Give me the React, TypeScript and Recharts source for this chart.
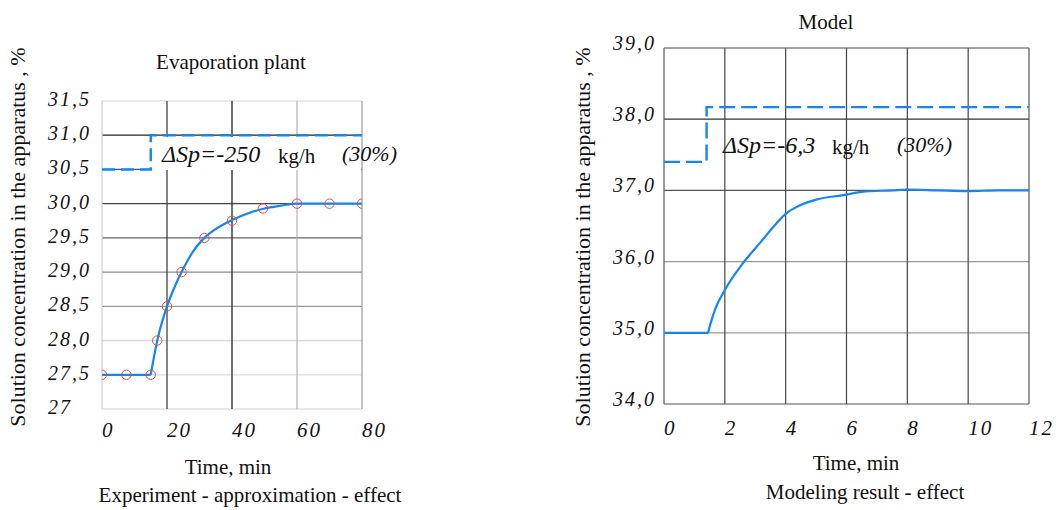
import { LineChart, Line, XAxis, YAxis, CartesianGrid } from 'recharts'

// experiment (left panel)
const expTicksX = [0, 20, 40, 60, 80]
const expTicksY = [27, 27.5, 28, 28.5, 29, 29.5, 30, 30.5, 31, 31.5]
const expLabelsY = ['27', '27,5', '28,0', '28,5', '29,0', '29,5', '30,0', '30,5', '31,0', '31,5']
const expFlatT = [0, 15]
const expFlatC = [27.5, 27.5]
const expCurveT = [15, 17, 20, 22.5, 25, 28, 31.5, 35, 40, 45, 50, 55, 60, 70, 80]
const expCurveC = [27.5, 28.0, 28.5, 28.8, 29.05, 29.3, 29.5, 29.63, 29.76, 29.86, 29.93, 29.97, 30.0, 30.0, 30.0]
const expPointT = [0, 7.5, 15, 17, 20, 24.5, 31.5, 40, 49.5, 60, 70, 80]
const expPointC = [27.5, 27.5, 27.5, 28.0, 28.5, 29.0, 29.5, 29.75, 29.93, 30.0, 30.0, 30.0]
const expStepT = [0, 15, 80]
const expStepC = [30.5, 31.0, 31.0]

// model (right panel)
const modTicksX = [0, 2, 4, 6, 8, 10, 12]
const modTicksY = [34, 35, 36, 37, 38, 39]
const modLabelsY = ['34,0', '35,0', '36,0', '37,0', '38,0', '39,0']
const modFlatT = [0, 1.45]
const modFlatC = [35, 35]
const modCurveT = [1.45, 1.55, 1.7, 2.0, 2.6, 3.17, 3.62, 4.0, 4.42, 5.0, 6.0, 6.5, 7.5, 8, 9, 10, 11, 12]
const modCurveC = [35.0, 35.16, 35.35, 35.6, 35.98, 36.27, 36.5, 36.67, 36.78, 36.87, 36.94, 36.98, 37.0, 37.01, 37.0, 36.99, 37.0, 37.0]
const modStepT = [0, 1.4, 12]
const modStepC = [37.4, 38.17, 38.17]

const rows = (ts: number[], vs: number[]) => ts.map((t, i) => ({ t, v: vs[i] }))

const serif = "'Liberation Serif', 'Times New Roman', serif"
const blue = '#1585f0'

// grid colours, bottom->top and left->right
const expGridH = ['#cfcfcf', '#dcdcdc', '#d6d6d6', '#999', '#8c8c8c', '#666', '#444', '#555', '#222', '#d4d4d4']
const expGridV = ['#cfcfcf', '#333', '#111', '#b4b4b4', '#999']
const modGridH = ['#555', '#999', '#999', '#555', '#333', '#444']
const modGridV = ['#555', '#444', '#444', '#444', '#444', '#444', '#555']

const gridLine = (colors: string[]) => (p: any) => {
  const { x1, y1, x2, y2, index } = p
  return <line key={`g-${index}-${x1}-${y1}`} x1={x1} y1={y1} x2={x2} y2={y2} stroke={colors[index] ?? '#444'} strokeWidth={1.2} />
}

const yTick = (ticks: number[], labels: string[], left: number, dy: number) => (p: any) => {
  const i = ticks.indexOf(p.payload.value)
  return (
    <text key={`y-${i}`} x={left} y={p.y + dy} textAnchor="start" dominantBaseline="central"
      fontFamily={serif} fontStyle="italic" fontSize={20} letterSpacing={2} fill="#111">
      {labels[i]}
    </text>
  )
}

const xTick = (y: number) => (p: any) => (
  <text key={`x-${p.payload.value}`} x={p.x} y={y} textAnchor="start" dominantBaseline="central"
    fontFamily={serif} fontStyle="italic" fontSize={21} letterSpacing={2} fill="#111">
    {p.payload.value}
  </text>
)

const abs = (x: number, y: number, size: number, extra: any = {}) => ({
  position: 'absolute' as const,
  left: x,
  top: y,
  transform: 'translate(-50%, -50%)',
  fontSize: size,
  lineHeight: 1,
  whiteSpace: 'nowrap' as const,
  color: '#111',
  ...extra,
})

const piece = (x: number, y: number, size: number, italic: boolean) => ({
  position: 'absolute' as const,
  left: x,
  top: y,
  transform: 'translateY(-50%)',
  fontSize: size,
  lineHeight: 1,
  fontStyle: italic ? 'italic' : 'normal',
  whiteSpace: 'nowrap' as const,
  color: '#111',
})

function ExperimentChart() {
  return (
    <LineChart width={420} height={510} margin={{ top: 101, right: 58, left: 42, bottom: 71 }}>
      <CartesianGrid horizontal={gridLine(expGridH)} vertical={gridLine(expGridV)} />
      <XAxis type="number" dataKey="t" domain={[0, 80]} ticks={expTicksX} interval={0}
        axisLine={false} tickLine={false} height={30} tick={xTick(430)} allowDataOverflow />
      <YAxis type="number" domain={[27, 31.5]} ticks={expTicksY} interval={0}
        axisLine={false} tickLine={false} width={60} tick={yTick(expTicksY, expLabelsY, 48, -2)} allowDataOverflow />
      <Line data={rows(expStepT, expStepC)} dataKey="v" type="stepAfter" stroke={blue} strokeWidth={2.4}
        strokeDasharray="13 6" dot={false} activeDot={false} isAnimationActive={false} />
      <Line data={rows(expFlatT, expFlatC)} dataKey="v" type="linear" stroke={blue} strokeWidth={2.2}
        dot={false} activeDot={false} isAnimationActive={false} />
      <Line data={rows(expCurveT, expCurveC)} dataKey="v" type="monotone" stroke={blue} strokeWidth={2.2}
        dot={false} activeDot={false} isAnimationActive={false} />
      <Line data={rows(expPointT, expPointC)} dataKey="v" type="linear" stroke="none"
        dot={{ r: 4.7, fill: 'none', stroke: '#e5483f', strokeWidth: 1 }} activeDot={false} isAnimationActive={false} />
    </LineChart>
  )
}

function ModelChart() {
  return (
    <LineChart width={516} height={510} margin={{ top: 48, right: 27, left: 64, bottom: 76 }}>
      <CartesianGrid horizontal={gridLine(modGridH)} vertical={gridLine(modGridV)} />
      <XAxis type="number" dataKey="t" domain={[0, 12]} ticks={modTicksX} interval={0}
        axisLine={false} tickLine={false} height={30} tick={xTick(428)} allowDataOverflow />
      <YAxis type="number" domain={[34, 39]} ticks={modTicksY} interval={0}
        axisLine={false} tickLine={false} width={60} tick={yTick(modTicksY, modLabelsY, 73, -5)} allowDataOverflow />
      <Line data={rows(modStepT, modStepC)} dataKey="v" type="stepAfter" stroke={blue} strokeWidth={2.4}
        strokeDasharray="16 6" dot={false} activeDot={false} isAnimationActive={false} />
      <Line data={rows(modFlatT, modFlatC)} dataKey="v" type="linear" stroke={blue} strokeWidth={2.2}
        dot={false} activeDot={false} isAnimationActive={false} />
      <Line data={rows(modCurveT, modCurveC)} dataKey="v" type="monotone" stroke={blue} strokeWidth={2.2}
        dot={false} activeDot={false} isAnimationActive={false} />
    </LineChart>
  )
}

export default function App() {
  return (
    <div style={{ position: 'absolute', left: 0, top: 0, width: 1056, height: 510, background: '#fff', fontFamily: serif, overflow: 'hidden' }}>
      <div style={{ position: 'absolute', left: 0, top: 0 }}>
        <ExperimentChart />
      </div>
      <div style={{ position: 'absolute', left: 540, top: 0 }}>
        <ModelChart />
      </div>

      {/* left panel texts */}
      <div style={abs(231, 62, 21)}>Evaporation plant</div>
      <div style={abs(18, 237, 22, { transform: 'translate(-50%, -50%) rotate(-90deg)' })}>
        Solution concentration in the apparatus , %
      </div>
      <div style={abs(228, 467, 21)}>Time, min</div>
      <div style={abs(250, 495, 21)}>Experiment - approximation - effect</div>
      <div style={{ position: 'absolute', left: 152, top: 137, width: 209, height: 33, background: '#fff' }} />
      <div style={piece(162, 154, 24, true)}>ΔSp=-250</div>
      <div style={piece(278, 156, 21, false)}>kg/h</div>
      <div style={piece(342, 154, 22, true)}>(30%)</div>

      {/* right panel texts */}
      <div style={abs(826, 22, 21)}>Model</div>
      <div style={abs(583, 237, 22, { transform: 'translate(-50%, -50%) rotate(-90deg)' })}>
        Solution concentration in the apparatus , %
      </div>
      <div style={abs(856, 463, 21)}>Time, min</div>
      <div style={abs(865, 492, 21)}>Modeling result - effect</div>
      <div style={piece(723, 145, 24, true)}>ΔSp=-6,3</div>
      <div style={piece(832, 147, 21, false)}>kg/h</div>
      <div style={piece(897, 145, 22, true)}>(30%)</div>
    </div>
  )
}
